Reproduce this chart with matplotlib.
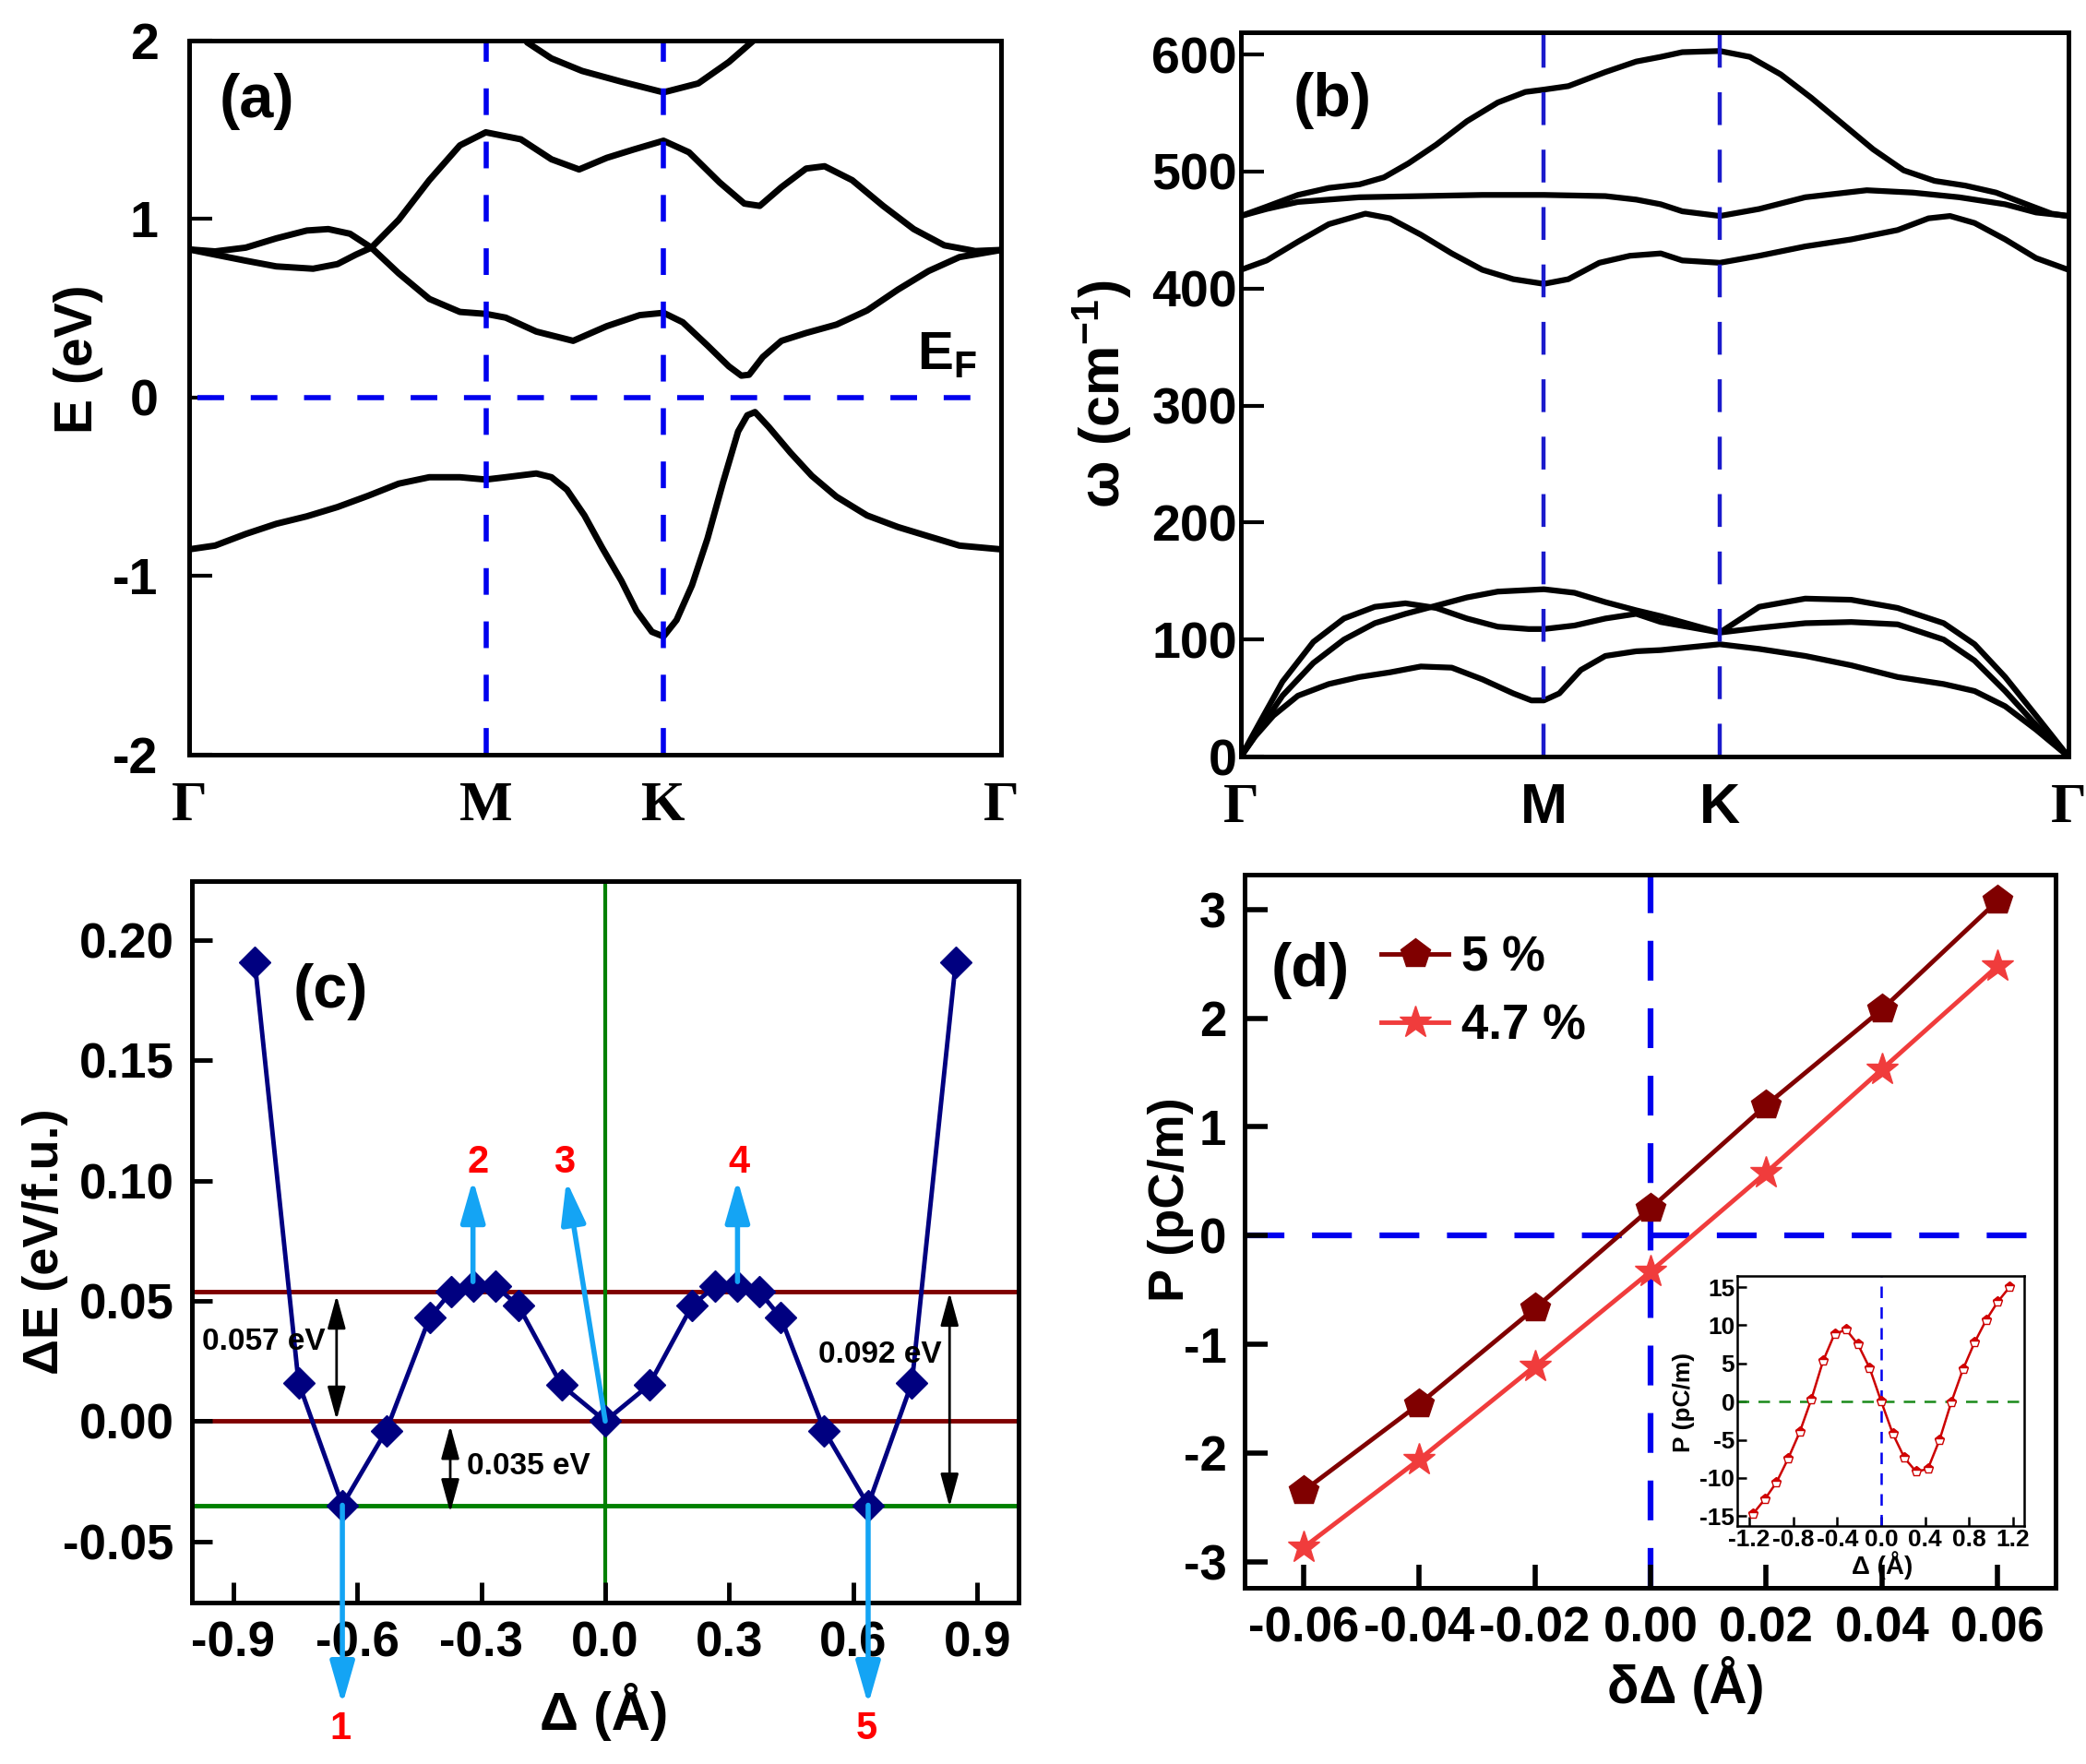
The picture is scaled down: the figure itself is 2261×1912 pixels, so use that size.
import matplotlib.pyplot as plt
from matplotlib import font_manager

names = {f.name for f in font_manager.fontManager.ttflist}
SANS = 'Liberation Sans Narrow' if 'Liberation Sans Narrow' in names else 'Liberation Sans'
SERIF = 'Liberation Serif'

plt.rcParams['font.family'] = [SANS, 'DejaVu Sans']
plt.rcParams['font.weight'] = 'bold'
plt.rcParams['axes.labelweight'] = 'bold'
plt.rcParams['axes.unicode_minus'] = False
plt.rcParams['mathtext.fontset'] = 'custom'
plt.rcParams['mathtext.bf'] = SANS + ':bold'
plt.rcParams['mathtext.rm'] = SANS + ':bold'
plt.rcParams['mathtext.default'] = 'bf'

# ---------------- data ----------------
kpos_a = [0.0, 1.0, 1.595, 2.732]
kpos_b = [0.0, 1.0, 1.581, 2.732]
kpath_lab = ['Γ', 'M', 'K', 'Γ']

# (a) electronic bands
ka_v = [0.0, 0.087, 0.190, 0.293, 0.396, 0.499, 0.602, 0.705, 0.808, 0.911, 0.998, 1.065,
        1.168, 1.219, 1.271, 1.330, 1.390, 1.454, 1.505, 1.557, 1.596, 1.640, 1.692, 1.744,
        1.796, 1.847, 1.878, 1.904, 1.950, 2.023, 2.095, 2.178, 2.281, 2.385, 2.488, 2.592,
        2.732]
Ea_v = [-0.850, -0.829, -0.764, -0.707, -0.665, -0.613, -0.550, -0.482, -0.446, -0.446,
        -0.459, -0.446, -0.425, -0.446, -0.516, -0.660, -0.842, -1.025, -1.194, -1.312,
        -1.338, -1.246, -1.051, -0.790, -0.477, -0.190, -0.099, -0.081, -0.164, -0.308,
        -0.438, -0.555, -0.660, -0.725, -0.777, -0.829, -0.850]
ka_c1 = [0.0, 0.087, 0.190, 0.293, 0.396, 0.468, 0.541, 0.613, 0.705, 0.808, 0.911, 0.998,
         1.065, 1.168, 1.292, 1.405, 1.516, 1.596, 1.661, 1.744, 1.816, 1.858, 1.884, 1.930,
         1.993, 2.076, 2.178, 2.281, 2.385, 2.488, 2.592, 2.732]
Ea_c1 = [0.830, 0.819, 0.840, 0.892, 0.936, 0.944, 0.918, 0.840, 0.696, 0.553, 0.480, 0.469,
         0.448, 0.370, 0.318, 0.400, 0.462, 0.475, 0.422, 0.292, 0.175, 0.123, 0.128, 0.227,
         0.318, 0.362, 0.409, 0.488, 0.605, 0.709, 0.787, 0.827]
ka_c2 = [0.0, 0.087, 0.190, 0.293, 0.417, 0.499, 0.561, 0.613, 0.705, 0.808, 0.911, 0.998,
         1.116, 1.219, 1.312, 1.405, 1.496, 1.596, 1.682, 1.785, 1.868, 1.920, 1.993, 2.076,
         2.138, 2.231, 2.335, 2.438, 2.541, 2.645, 2.732]
Ea_c2 = [0.830, 0.801, 0.767, 0.735, 0.722, 0.748, 0.801, 0.840, 0.996, 1.218, 1.413, 1.486,
         1.447, 1.335, 1.278, 1.343, 1.390, 1.439, 1.374, 1.205, 1.087, 1.074, 1.179, 1.283,
         1.296, 1.218, 1.074, 0.944, 0.853, 0.821, 0.827]
ka_c3 = [1.137, 1.219, 1.322, 1.454, 1.596, 1.713, 1.816, 1.899]
Ea_c3 = [1.99, 1.90, 1.83, 1.77, 1.71, 1.76, 1.88, 2.00]

# (b) phonon branches
kb_o1 = [0.0, 0.085, 0.188, 0.290, 0.391, 0.472, 0.553, 0.645, 0.746, 0.848, 0.939, 1.0,
         1.081, 1.203, 1.305, 1.386, 1.457, 1.581, 1.680, 1.782, 1.883, 1.985, 2.087, 2.188,
         2.290, 2.391, 2.493, 2.594, 2.676, 2.732]
wb_o1 = [462, 470, 480, 486, 489, 495, 507, 523, 543, 559, 568, 570, 573, 585, 594, 598, 602,
         603, 598, 583, 563, 541, 519, 501, 492, 488, 482, 472, 464, 462]
kb_o2 = [0.0, 0.085, 0.188, 0.391, 0.594, 0.797, 1.0, 1.203, 1.305, 1.386, 1.457, 1.581,
         1.711, 1.863, 2.066, 2.218, 2.371, 2.523, 2.625, 2.732]
wb_o2 = [462, 468, 474, 478, 479, 480, 480, 479, 476, 472, 466, 462, 468, 478, 484, 482, 478,
         472, 465, 462]
kb_o3 = [0.0, 0.085, 0.188, 0.290, 0.411, 0.492, 0.594, 0.696, 0.797, 0.899, 1.0, 1.081,
         1.183, 1.284, 1.386, 1.457, 1.581, 1.711, 1.863, 2.015, 2.168, 2.270, 2.341, 2.422,
         2.523, 2.625, 2.732]
wb_o3 = [416, 424, 440, 455, 464, 460, 446, 430, 416, 408, 404, 408, 422, 428, 430, 424, 422,
         428, 436, 442, 450, 460, 462, 456, 442, 426, 416]
kb_a1 = [0.0, 0.046, 0.107, 0.188, 0.290, 0.391, 0.492, 0.594, 0.696, 0.797, 0.899, 0.959,
         1.0, 1.051, 1.122, 1.203, 1.305, 1.386, 1.581, 1.711, 1.863, 2.015, 2.168, 2.320,
         2.422, 2.523, 2.625, 2.732]
wb_a1 = [0, 17, 35, 52, 62, 68, 72, 77, 76, 66, 54, 48, 48, 54, 74, 86, 90, 91, 96, 92, 86,
         78, 68, 62, 56, 43, 23, 0]
kb_a2 = [0.0, 0.066, 0.137, 0.239, 0.340, 0.442, 0.543, 0.645, 0.746, 0.848, 0.950, 1.0,
         1.101, 1.203, 1.305, 1.386, 1.581, 1.711, 1.863, 2.015, 2.168, 2.320, 2.422, 2.523,
         2.625, 2.732]
wb_a2 = [0, 31, 64, 98, 118, 128, 131, 127, 118, 111, 109, 109, 112, 118, 122, 115, 106, 110,
         114, 115, 113, 100, 82, 56, 27, 0]
kb_a3 = [0.0, 0.066, 0.137, 0.239, 0.340, 0.442, 0.543, 0.645, 0.746, 0.848, 1.0, 1.101,
         1.203, 1.305, 1.386, 1.581, 1.711, 1.863, 2.015, 2.168, 2.320, 2.422, 2.523, 2.625,
         2.732]
wb_a3 = [0, 25, 52, 80, 100, 114, 122, 129, 136, 141, 143, 140, 132, 125, 120, 106, 128, 135,
         134, 127, 114, 96, 68, 35, 0]

# (c) energy profile
delta_c = [-0.848, -0.742, -0.636, -0.530, -0.425, -0.372, -0.320, -0.265, -0.210, -0.106, 0.0,
           0.106, 0.210, 0.265, 0.320, 0.372, 0.425, 0.530, 0.636, 0.742, 0.848]
dE_c = [0.191, 0.016, -0.035, -0.004, 0.043, 0.054, 0.056, 0.056, 0.048, 0.015, 0.0,
        0.015, 0.048, 0.056, 0.056, 0.054, 0.043, -0.004, -0.035, 0.016, 0.191]
hline_red = [0.054, 0.0]
hline_green = -0.035
barrier_text = ['0.057 eV', '0.035 eV', '0.092 eV']

# (d) polarization
dd = [-0.06, -0.04, -0.02, 0.00, 0.02, 0.04, 0.06]
P_5 = [-2.35, -1.55, -0.67, 0.25, 1.20, 2.08, 3.08]
P_47 = [-2.87, -2.06, -1.20, -0.33, 0.58, 1.53, 2.48]

# (d) inset
delta_in = [-1.166, -1.060, -0.954, -0.848, -0.742, -0.636, -0.530, -0.424, -0.318, -0.212,
            -0.106, 0.0, 0.106, 0.212, 0.318, 0.424, 0.530, 0.636, 0.742, 0.848, 0.954,
            1.060, 1.166]
P_in = [-14.7, -12.8, -10.6, -7.5, -4.0, 0.3, 5.3, 8.9, 9.4, 7.5, 4.4, 0.0, -4.25, -7.4,
        -9.2, -8.8, -5.0, -0.1, 4.2, 7.75, 10.7, 13.1, 15.0]

BLUE = '#0000ee'
FS = 38       # tick labels
LFS = 41      # axis labels
PFS = 48      # panel letters


def frame(ax, lw=3.6):
    for s in ax.spines.values():
        s.set_linewidth(lw)


fig = plt.figure(figsize=(22.61, 19.12), dpi=100)

# ---------------- (a) ----------------
axA = fig.add_axes([0.0907, 0.5722, 0.3892, 0.4048])
for k, e in [(ka_v, Ea_v), (ka_c1, Ea_c1), (ka_c2, Ea_c2), (ka_c3, Ea_c3)]:
    axA.plot(k, e, color='black', lw=5, solid_capstyle='round', solid_joinstyle='round')
for xv in kpos_a[1:3]:
    axA.axvline(xv, color=BLUE, lw=4, ls=(0, (5.2, 5.2)))
axA.axhline(0, color=BLUE, lw=4, ls=(0, (5.2, 5.2)), xmin=0.01, xmax=0.99)
axA.set_xlim(0, 2.732)
axA.set_ylim(-2, 2)
axA.set_yticks([-2, -1, 0, 1, 2], ['-2', '-1', '0', '1', '2'])
axA.set_xticks(kpos_a, kpath_lab, family=SERIF, fontsize=44, fontweight='bold')
axA.tick_params(axis='y', direction='in', length=18, width=3, labelsize=40, pad=24)
axA.tick_params(axis='x', length=0, pad=20)
axA.set_ylabel('E (eV)', fontsize=LFS)
axA.yaxis.set_label_coords(-0.106, 0.554)
axA.text(0.083, 0.915, '(a)', transform=axA.transAxes, fontsize=PFS, ha='center', va='center')
axA.text(2.55, 0.24, r'$\mathbf{E_F}$', fontsize=42, ha='center', va='center')
frame(axA)

# ---------------- (b) ----------------
axB = fig.add_axes([0.5949, 0.5711, 0.3967, 0.4106])
for k, w in [(kb_o1, wb_o1), (kb_o2, wb_o2), (kb_o3, wb_o3),
             (kb_a1, wb_a1), (kb_a2, wb_a2), (kb_a3, wb_a3)]:
    axB.plot(k, w, color='black', lw=4.5, solid_joinstyle='round')
for xv in kpos_b[1:3]:
    axB.axvline(xv, color='#1a1acc', lw=3.2, ls=(0, (8, 6)))
axB.set_xlim(0, 2.732)
axB.set_ylim(0, 619)
axB.set_yticks([0, 100, 200, 300, 400, 500, 600])
axB.set_xticks(kpos_b, kpath_lab, fontsize=44, fontweight='bold')
for lab in [axB.get_xticklabels()[0], axB.get_xticklabels()[3]]:
    lab.set_family(SERIF)
axB.tick_params(axis='y', direction='in', length=18, width=3, labelsize=40, pad=3)
axB.tick_params(axis='x', length=0, pad=20)
axB.set_ylabel('ω (cm$^{-1}$)', fontsize=44)
axB.yaxis.set_label_coords(-0.129, 0.50)
axB.text(0.111, 0.906, '(b)', transform=axB.transAxes, fontsize=PFS, ha='center', va='center')
frame(axB)

# ---------------- (c) ----------------
axC = fig.add_axes([0.092, 0.0915, 0.3963, 0.409])
for y in hline_red:
    axC.axhline(y, color='#7f0000', lw=3.5, zorder=1)
axC.axhline(hline_green, color='#008000', lw=3.5, zorder=1)
axC.axvline(0, color='#008000', lw=3, zorder=1)
axC.plot(delta_c, dE_c, color='#000080', lw=3.5, marker='D', ms=17, zorder=3)
axC.set_xlim(-1.0, 1.0)
axC.set_ylim(-0.0755, 0.2246)
axC.set_xticks([-0.9, -0.6, -0.3, 0.0, 0.3, 0.6, 0.9],
               ['-0.9', '-0.6', '-0.3', '0.0', '0.3', '0.6', '0.9'])
axC.set_yticks([-0.05, 0.0, 0.05, 0.10, 0.15, 0.20],
               ['-0.05', '0.00', '0.05', '0.10', '0.15', '0.20'])
axC.tick_params(direction='in', length=16, width=3.5, labelsize=FS, pad=14)
axC.set_xlabel('Δ (Å)', fontsize=42)
axC.xaxis.set_label_coords(0.498, -0.111)
axC.set_ylabel('ΔE (eV/f.u.)', fontsize=39)
axC.yaxis.set_label_coords(-0.150, 0.50)
axC.text(0.168, 0.847, '(c)', transform=axC.transAxes, fontsize=PFS, ha='center', va='center')

LBLUE = '#14a4f4'
aprops = dict(arrowstyle='-|>,head_length=1.4,head_width=0.4', color=LBLUE, lw=4,
              mutation_scale=20, shrinkA=0, shrinkB=0)
arrows = [((-0.636, -0.035), (-0.636, -0.118)), ((-0.320, 0.058), (-0.320, 0.1005)),
          ((0.0, 0.0), (-0.094, 0.100)), ((0.320, 0.058), (0.320, 0.1005)),
          ((0.636, -0.035), (0.636, -0.118))]
for base, tip in arrows:
    axC.annotate('', xy=tip, xytext=base, arrowprops=aprops, annotation_clip=False, zorder=5)
nums = [('1', -0.640, -0.128), ('2', -0.308, 0.1077), ('3', -0.100, 0.1077),
        ('4', 0.324, 0.1077), ('5', 0.633, -0.128)]
for s, x, y in nums:
    axC.text(x, y, s, color='#ff0000', fontsize=30, ha='center', va='center', clip_on=False)

bprops = dict(arrowstyle='<|-|>,head_length=1.1,head_width=0.3', color='black', lw=2,
              mutation_scale=20, shrinkA=0, shrinkB=0)
axC.annotate('', xy=(-0.65, 0.0005), xytext=(-0.65, 0.0523), arrowprops=bprops)
axC.annotate('', xy=(-0.375, -0.038), xytext=(-0.375, -0.0019), arrowprops=bprops)
axC.annotate('', xy=(0.833, -0.0357), xytext=(0.833, 0.0535), arrowprops=bprops)
axC.text(-0.975, 0.033, barrier_text[0], fontsize=24, ha='left', va='center')
axC.text(-0.335, -0.019, barrier_text[1], fontsize=24, ha='left', va='center')
axC.text(0.516, 0.0277, barrier_text[2], fontsize=24, ha='left', va='center')
frame(axC)

# ---------------- (d) ----------------
axD = fig.add_axes([0.5966, 0.0999, 0.3888, 0.4043])
axD.axhline(0, color=BLUE, lw=4.5, ls=(0, (6.9, 4.8)), zorder=1)
axD.axvline(0, color=BLUE, lw=4.5, ls=(0, (6.9, 4.8)), zorder=1)
axD.plot(dd, P_5, color='#800000', lw=3.5, marker='p', ms=24, label='5 %', zorder=3)
axD.plot(dd, P_47, color='#f03c3c', lw=3.5, marker='*', ms=26, label='4.7 %', zorder=3)
axD.set_xlim(-0.0702, 0.0700)
axD.set_ylim(-3.24, 3.32)
axD.set_xticks(dd, ['-0.06', '-0.04', '-0.02', '0.00', '0.02', '0.04', '0.06'])
axD.set_yticks([-3, -2, -1, 0, 1, 2, 3])
axD.tick_params(direction='in', length=18, width=4, labelsize=FS, pad=14)
axD.set_xlabel('δΔ (Å)', fontsize=LFS)
axD.xaxis.set_label_coords(0.544, -0.096)
axD.set_ylabel('P (pC/m)', fontsize=39)
axD.yaxis.set_label_coords(-0.063, 0.545)
axD.text(0.081, 0.865, '(d)', transform=axD.transAxes, fontsize=PFS, ha='center', va='center')
axD.legend(loc='upper left', bbox_to_anchor=(0.168, 0.915), frameon=False, fontsize=FS,
           handlelength=1.4, handletextpad=0.25, labelspacing=0.45, borderpad=0,
           borderaxespad=0)
frame(axD)

# inset
axI = fig.add_axes([0.8328, 0.1349, 0.1376, 0.1417])
axI.axhline(0, color='#1a8a1a', lw=1.8, ls=(0, (5, 4)))
axI.axvline(0, color=BLUE, lw=1.8, ls=(0, (5, 4)))
axI.plot(delta_in, P_in, color='#cc0000', lw=1.8, marker='p', ms=8, fillstyle='top',
         markerfacecolor='#dd0000', markerfacecoloralt='white', markeredgecolor='#cc0000',
         markeredgewidth=1)
axI.set_xlim(-1.31, 1.30)
axI.set_ylim(-16.3, 16.45)
axI.set_xticks([-1.2, -0.8, -0.4, 0.0, 0.4, 0.8, 1.2],
               ['-1.2', '-0.8', '-0.4', '0.0', '0.4', '0.8', '1.2'])
axI.set_yticks([-15, -10, -5, 0, 5, 10, 15])
axI.tick_params(direction='in', length=7, width=1.8, labelsize=19, pad=2)
axI.set_xlabel('Δ (Å)', fontsize=20)
axI.xaxis.set_label_coords(0.505, -0.10)
axI.set_ylabel('P (pC/m)', fontsize=19)
axI.yaxis.set_label_coords(-0.148, 0.494)
frame(axI, lw=1.8)

fig.savefig('out.png', dpi=100)
